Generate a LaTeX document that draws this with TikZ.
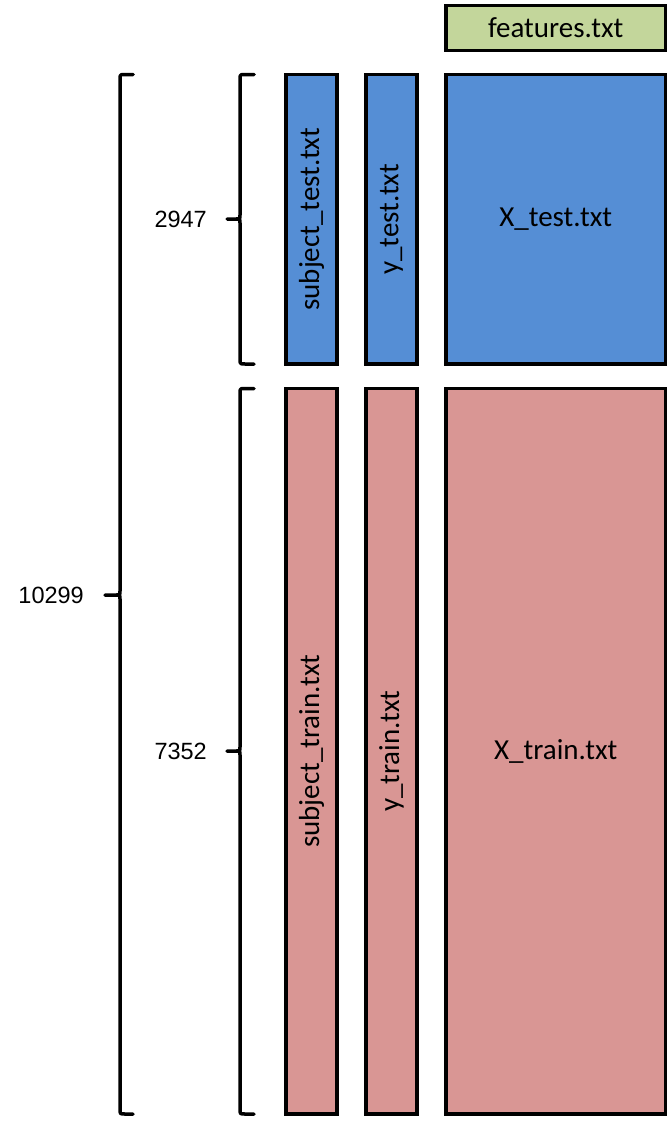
\documentclass[tikz,border=0pt]{standalone}
\usepackage{fontspec}
\setmainfont{Carlito}
\newfontfamily\numfont{Liberation Sans}
\definecolor{testblue}{HTML}{558ED5}
\definecolor{trainpink}{HTML}{D99694}
\definecolor{featgreen}{HTML}{C3D69B}
% #1 x of vertical, #2 top, #3 bottom, #4 middle, #5 tip x, #6 end x
\newcommand{\filebrace}[6]{%
  \draw[bracepath] (#6,#2) -- ({#1+5},#2) .. controls (#1,#2) .. (#1,{#2+5})
    -- (#1,{#4-4}) .. controls (#1,#4) .. ({#1-4},#4) -- (#5,#4)
    -- ({#1-4},#4) .. controls (#1,#4) .. (#1,{#4+4})
    -- (#1,{#3-5}) .. controls (#1,#3) .. ({#1+5},#3) -- (#6,#3);}
\begin{document}
\begin{tikzpicture}[x=1pt,y=-1pt,
  filebox/.style={draw=black, line width=3.5pt, inner sep=0pt, font=\fontsize{29}{34}\selectfont},
  bracepath/.style={draw=black, line width=3.5pt, line join=round, line cap=round},
  numlabel/.style={font=\numfont\fontsize{23.5}{28}\selectfont, anchor=east, inner sep=0pt}]
\useasboundingbox (0,0) rectangle (668,1127);
% features
\node[filebox, fill=featgreen, minimum width=219.5pt, minimum height=45pt] (feat) at (555.75,28) {features.txt};
% test
\node[filebox, fill=testblue, rotate=90, minimum width=289.5pt, minimum height=51pt] (subtest) at (311.5,219.25) {subject\_test.txt};
\node[filebox, fill=testblue, rotate=90, minimum width=289.5pt, minimum height=51pt] (ytest) at (391.5,219.25) {y\_test.txt};
\node[filebox, fill=testblue, minimum width=219.5pt, minimum height=289.5pt] (xtest) at (555.75,219.25) {X\_test.txt};
% train
\node[filebox, fill=trainpink, rotate=90, minimum width=725.5pt, minimum height=51pt] (subtrain) at (311.5,751.25) {subject\_train.txt};
\node[filebox, fill=trainpink, rotate=90, minimum width=725.5pt, minimum height=51pt] (ytrain) at (391.5,751.25) {y\_train.txt};
\node[filebox, fill=trainpink, minimum width=219.5pt, minimum height=725.5pt] (xtrain) at (555.75,751.25) {X\_train.txt};
% braces
\filebrace{240}{74.5}{364}{219}{227}{254}
\filebrace{240}{388.5}{1114}{751}{227}{254}
\filebrace{120}{74.5}{1114}{595}{105}{133}
% labels
\node[numlabel] (ntest) at (207,219) {2947};
\node[numlabel] (ntrain) at (207,751) {7352};
\node[numlabel] (nall) at (84,595) {10299};
\end{tikzpicture}
\end{document}
